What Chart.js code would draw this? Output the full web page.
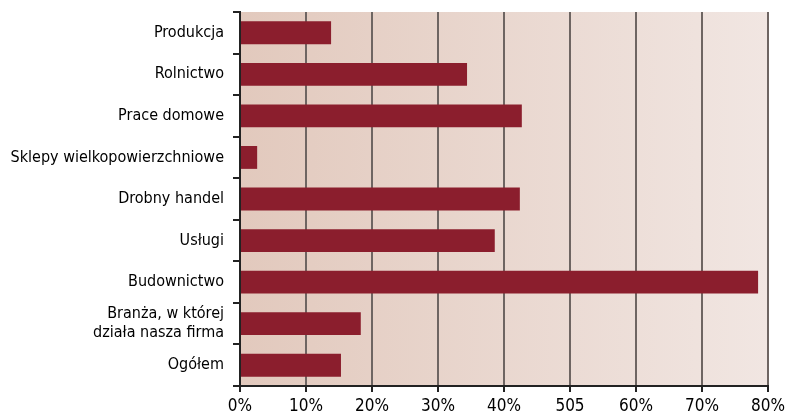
<!DOCTYPE html>
<html>
<head>
<meta charset="utf-8">
<script src="https://cdn.jsdelivr.net/npm/chart.js@4.4.0/dist/chart.umd.min.js"></script>
<style>
  html, body { margin: 0; padding: 0; background: #fff; }
  #wrap { width: 787px; height: 416px; }
</style>
</head>
<body>
<div id="wrap"><canvas id="mycanvas"></canvas></div>
<script>
var categories = [
  'Produkcja',
  'Rolnictwo',
  'Prace domowe',
  'Sklepy wielkopowierzchniowe',
  'Drobny handel',
  'Usługi',
  'Budownictwo',
  ['Branża, w której', 'działa nasza firma'],
  'Ogółem'
];
var values = [13.8, 34.4, 42.7, 2.6, 42.4, 38.6, 78.5, 18.3, 15.3];
var xTickLabels = ['0%', '10%', '20%', '30%', '40%', '505', '60%', '70%', '80%'];

var plotBackground = {
  id: 'plotBackground',
  beforeDraw: function(chart) {
    var a = chart.chartArea;
    var ctx = chart.ctx;
    var g = ctx.createLinearGradient(a.left, 0, a.right, 0);
    g.addColorStop(0, '#e2c9bd');
    g.addColorStop(1, '#f1e6e2');
    ctx.save();
    ctx.fillStyle = g;
    ctx.fillRect(a.left, a.top, a.right - a.left, a.bottom - a.top);
    ctx.restore();
  }
};

var ctx = document.getElementById('mycanvas');
var barGraph = new Chart(ctx, {
  type: 'bar',
  data: {
    labels: categories,
    datasets: [{
      data: values,
      backgroundColor: '#8b1e2d',
      barPercentage: 0.55,
      categoryPercentage: 1.0
    }]
  },
  options: {
    indexAxis: 'y',
    responsive: true,
    maintainAspectRatio: false,
    animation: false,
    layout: { padding: { top: 12, right: 0, left: 4, bottom: 0 } },
    plugins: {
      legend: { display: false },
      tooltip: { enabled: false }
    },
    scales: {
      x: {
        min: 0,
        max: 80,
        afterFit: function(scale) {
          scale.height = 30;
          scale.paddingRight = 19;
          scale.paddingLeft = 0;
          scale.paddingTop = 0;
          scale.paddingBottom = 0;
        },
        ticks: {
          stepSize: 10,
          color: '#000',
          padding: 6,
          font: { family: 'DejaVu Sans Condensed', size: 17, lineHeight: 1.05 },
          callback: function(v, i) { return xTickLabels[i]; }
        },
        grid: {
          color: '#6e6562',
          lineWidth: 2,
          tickLength: 6,
          tickColor: '#222'
        },
        border: { color: '#222', width: 2 }
      },
      y: {
        afterFit: function(scale) {
          scale.width = 236;
          scale.paddingTop = 0;
          scale.paddingBottom = 0;
        },
        ticks: {
          color: '#000',
          padding: 9,
          autoSkip: false,
          font: { family: 'DejaVu Sans Condensed', size: 16, lineHeight: 1.2 }
        },
        grid: {
          drawOnChartArea: false,
          offset: true,
          tickLength: 7,
          color: '#222',
          lineWidth: 2
        },
        border: { color: '#222', width: 2 }
      }
    }
  },
  plugins: [plotBackground]
});
</script>
</body>
</html>
